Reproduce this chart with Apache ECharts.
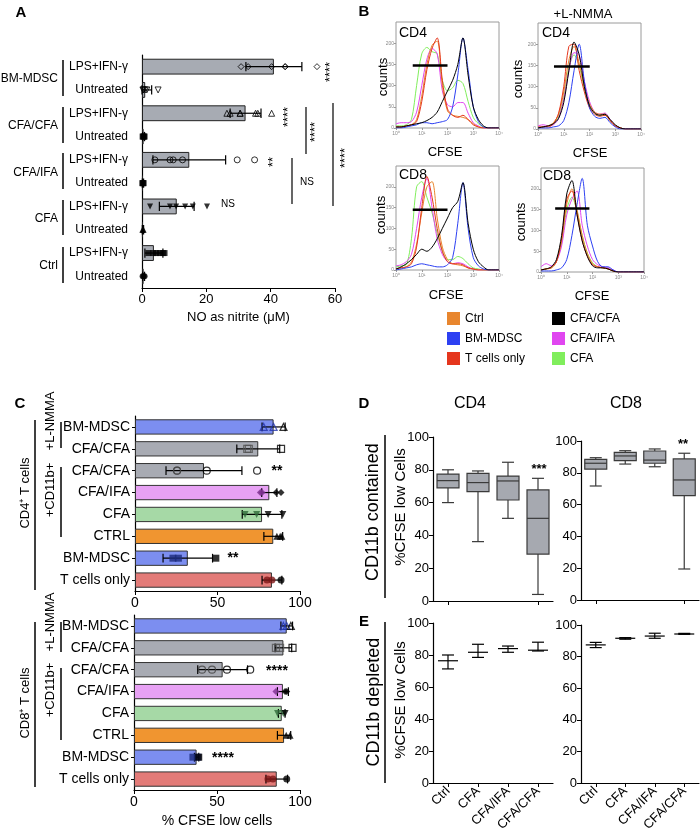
<!DOCTYPE html>
<html>
<head>
<meta charset="utf-8">
<script src="https://cdn.jsdelivr.net/npm/echarts@6/dist/echarts.min.js"></script>
<style>
  html, body { margin: 0; background: #fff; }
  #chart { width: 700px; height: 834px; }
</style>
</head>
<body>
<div id="chart"></div>
<script>
// ---------- A: NO as nitrite ----------
const aRows = ['LPS+IFN-γ', 'Untreated', 'LPS+IFN-γ', 'Untreated', 'LPS+IFN-γ', 'Untreated',
  'LPS+IFN-γ', 'Untreated', 'LPS+IFN-γ', 'Untreated'];
const aGroups = ['BM-MDSC', 'CFA/CFA', 'CFA/IFA', 'CFA', 'Ctrl'];
const aMeans = [41, 1, 32.2, 0.5, 14.7, 0.3, 10.8, 0.3, 3.7, 0.5];
const aSd = [8.7, 2, 4.8, 0.3, 11.3, 0.2, 5.4, 0.2, 2.8, 0.3];
const aPoints = [
  [30.8, 33, 40.3, 44.5, 44.5, 54.4],
  [0.3, 0.5, 1, 1.5, 5],
  [26.4, 27.4, 30.5, 30.5, 35.3, 36, 40.3],
  [0.2, 0.4, 0.6, 0.8],
  [4, 8.7, 9.7, 12.6, 29.6, 35],
  [0.1, 0.3, 0.5],
  [2.5, 8.7, 10.6, 13.4, 15.8, 20.2],
  [0.1, 0.3, 0.5],
  [2, 3.5, 4.5, 5.5, 6.5, 7],
  [0.2, 0.5, 0.8]
];

// ---------- B: CFSE histograms (x in decades) ----------
const bBins = [0, 0.2, 0.4, 0.6, 0.8, 1, 1.2, 1.4, 1.6, 1.8, 2, 2.2, 2.4, 2.6, 2.8, 3, 3.2, 3.4, 3.6, 3.8, 4];
const decadeLabels = ['10⁰', '10¹', '10²', '10³', '10⁴'];
const countLabels = ['0', '50', '100', '150', '200'];
const histNames = ['Ctrl', 'BM-MDSC', 'T cells only', 'CFA/CFA', 'CFA/IFA', 'CFA'];

const cd4Ctrl   = [1, 1, 2, 3, 8, 30, 60, 78, 82, 40, 16, 12, 11, 10, 8, 4, 1, 0, 0, 0, 0];
const cd4Mdsc   = [0, 0, 1, 2, 3, 5, 5, 4, 5, 6, 8, 20, 50, 85, 55, 20, 6, 1, 0, 0, 0];
const cd4Tonly  = [1, 1, 2, 3, 6, 25, 55, 75, 85, 45, 18, 12, 10, 12, 8, 3, 1, 0, 0, 0, 0];
const cd4CfaCfa = [1, 1, 2, 3, 4, 5, 7, 10, 15, 25, 35, 45, 60, 85, 50, 20, 8, 2, 0, 0, 0];
const cd4CfaIfa = [4, 5, 5, 6, 15, 40, 65, 75, 70, 35, 22, 20, 24, 24, 14, 5, 2, 0, 0, 0, 0];
const cd4Cfa    = [2, 2, 3, 8, 40, 70, 76, 72, 70, 45, 35, 38, 45, 42, 25, 10, 4, 1, 0, 0, 0];

const nmma4Ctrl   = [1, 2, 3, 6, 14, 35, 65, 78, 62, 40, 24, 16, 14, 14, 8, 3, 1, 0, 0, 0, 0];
const nmma4Mdsc   = [1, 1, 1, 2, 3, 8, 25, 55, 80, 45, 20, 12, 10, 11, 6, 2, 0, 0, 0, 0, 0];
const nmma4Tonly  = [2, 2, 2, 5, 15, 40, 78, 80, 55, 35, 20, 14, 12, 13, 8, 3, 1, 0, 0, 0, 0];
const nmma4CfaCfa = [1, 2, 3, 5, 10, 25, 55, 82, 70, 40, 22, 15, 13, 14, 9, 4, 1, 0, 0, 0, 0];
const nmma4CfaIfa = [3, 4, 3, 4, 10, 28, 55, 72, 70, 45, 26, 16, 14, 15, 9, 3, 1, 0, 0, 0, 0];
const nmma4Cfa    = [1, 2, 3, 5, 12, 30, 58, 70, 60, 38, 22, 15, 13, 13, 8, 3, 1, 0, 0, 0, 0];

const cd8Ctrl   = [1, 2, 3, 8, 25, 55, 80, 85, 50, 22, 10, 6, 5, 4, 2, 1, 0, 0, 0, 0, 0];
const cd8Mdsc   = [0, 1, 2, 3, 5, 6, 5, 4, 3, 3, 5, 12, 45, 84, 40, 12, 4, 1, 0, 0, 0];
const cd8Tonly  = [1, 2, 3, 6, 22, 60, 90, 70, 40, 18, 8, 6, 6, 5, 2, 1, 0, 0, 0, 0, 0];
const cd8CfaCfa = [1, 3, 6, 10, 15, 20, 18, 22, 30, 40, 50, 60, 66, 84, 45, 20, 8, 3, 0, 0, 0];
const cd8CfaIfa = [4, 5, 8, 15, 40, 70, 88, 60, 30, 15, 8, 6, 7, 6, 3, 1, 0, 0, 0, 0, 0];
const cd8Cfa    = [3, 4, 5, 30, 80, 85, 70, 55, 35, 18, 10, 10, 13, 11, 6, 2, 1, 0, 0, 0, 0];

const nmma8Ctrl   = [2, 3, 4, 10, 30, 65, 80, 60, 35, 18, 8, 5, 4, 3, 1, 0, 0, 0, 0, 0, 0];
const nmma8Mdsc   = [1, 1, 1, 2, 4, 12, 35, 65, 90, 45, 25, 10, 5, 5, 2, 0, 0, 0, 0, 0, 0];
const nmma8Tonly  = [2, 3, 4, 10, 32, 70, 78, 55, 30, 15, 7, 5, 4, 3, 1, 0, 0, 0, 0, 0, 0];
const nmma8CfaCfa = [2, 3, 5, 12, 35, 75, 88, 55, 30, 15, 6, 4, 4, 3, 1, 0, 0, 0, 0, 0, 0];
const nmma8CfaIfa = [5, 8, 6, 10, 25, 55, 70, 78, 45, 25, 12, 7, 5, 4, 2, 0, 0, 0, 0, 0, 0];
const nmma8Cfa    = [2, 3, 4, 10, 28, 60, 72, 58, 35, 18, 9, 5, 4, 3, 1, 0, 0, 0, 0, 0, 0];

// gate: [from, to, height]
const gateCd4 = [0.65, 2.0, 59];
const gateNmma4 = [0.62, 2.01, 59];
const gateCd8 = [0.65, 2.0, 58];
const gateNmma8 = [0.55, 1.88, 61];

// ---------- C: % CFSE low cells ----------
const cRows = ['BM-MDSC', 'CFA/CFA', 'CFA/CFA', 'CFA/IFA', 'CFA', 'CTRL', 'BM-MDSC', 'T cells only'];
const cCd4Means = [84, 74.7, 41.8, 81.4, 77, 83.8, 32, 83];
const cCd4Sd = [7, 13, 23, 4.6, 12, 5.7, 15, 6];
const cCd4Points = [
  [78, 84, 90], [68, 69, 88.5], [25.5, 25.5, 43.5, 74], [76, 77, 85.5, 88.5],
  [66.7, 73.7, 80.7, 89.6], [86, 88, 89], [23, 26.3, 49], [80, 83, 88.5]
];
const cCd8Means = [92, 90, 53.4, 89.7, 89, 90.4, 37.7, 86];
const cCd8Sd = [3.5, 5, 15, 3.3, 2, 4, 1.3, 6.5];
const cCd8Points = [
  [90, 92, 94.5], [85.5, 88, 95.5], [41, 47, 56, 70], [85.5, 91, 92],
  [86.5, 90, 91], [91.7, 94], [35.5, 38.5, 39], [80.7, 83.7, 92]
];

// ---------- D / E ----------
const dCats = ['Ctrl', 'CFA', 'CFA/IFA', 'CFA/CFA'];
// [min, Q1, median, Q3, max]
const dCd4Box = [[60, 69, 73.4, 77.4, 80], [36.2, 66.7, 72.2, 77.8, 79.3], [50.4, 61.6, 73.2, 76.2, 84.6], [4, 28.6, 50.4, 67.7, 74.8]];
const dCd8Box = [[71.7, 82.3, 86, 88.5, 89.5], [85.5, 87.6, 90.6, 92.9, 93.9], [83.8, 86, 88, 93.7, 95], [19.5, 65.6, 75.5, 88.7, 92.3]];
const eCd4Low = [71.3, 78.5, 81.7, 82.5];
const eCd4Mean = [76.4, 81.7, 84, 83];
const eCd4High = [80, 86.7, 85.6, 88];
const eCd8Low = [85.7, 91, 91.6, 94.1];
const eCd8Mean = [87.4, 91.6, 93, 94.3];
const eCd8High = [89, 92, 94.8, 94.7];

// ---------- styles ----------
const FONT = 'Liberation Sans, Arial, sans-serif';
const axisLine = { show: true, lineStyle: { color: '#000', width: 1.2 } };
const histColors = ['#e8862e', '#2d40f2', '#e5361d', '#000000', '#e046f0', '#80ee5c'];
const histOrder = [5, 4, 0, 2, 1, 3];
const aSymbol = ['diamond', 'triangle', 'triangle', 'rect', 'circle', 'rect', 'triangle', 'triangle', 'rect', 'circle'];
const aRotate = [0, 180, 0, 0, 0, 0, 180, 0, 0, 0];
const aOpen = [true, true, true, false, true, false, false, false, false, false];
const cSymbol = ['triangle', 'rect', 'circle', 'diamond', 'triangle', 'triangle', 'rect', 'circle'];
const cRotate = [0, 0, 0, 0, 180, 0, 0, 0];
const cOpen = [true, true, true, false, false, false, false, false];
const cInner = ['#2233aa', '#555555', '#444444', '#7d2f8f', '#2f6a3a', '#000000', '#1b2a7c', '#7d1616'];
const cBarColor = ['#7c8ef0', '#a8abb3', '#a8abb3', '#e7a1f4', '#a6d9a6', '#f09530', '#7c8ef0', '#e37b78'];

const chart = echarts.init(document.getElementById('chart'));

/** horizontal error bar: [row, lo, hi] */
function hErr(params, api) {
  const row = api.value(0);
  const lo = api.coord([api.value(1), row]);
  const hi = api.coord([api.value(2), row]);
  const h = api.size([0, 1])[1] * 0.4;
  const st = { stroke: '#000', lineWidth: 1.2 };
  return {
    type: 'group',
    children: [
      { type: 'line', shape: { x1: lo[0], y1: lo[1], x2: hi[0], y2: hi[1] }, style: st },
      { type: 'line', shape: { x1: hi[0], y1: hi[1] - h / 2, x2: hi[0], y2: hi[1] + h / 2 }, style: st },
      { type: 'line', shape: { x1: lo[0], y1: lo[1] - h / 2, x2: lo[0], y2: lo[1] + h / 2 }, style: st }
    ]
  };
}

/** vertical mean ± sem: [cat, low, mean, high] */
function vErr(params, api) {
  const cat = api.value(0);
  const lo = api.coord([cat, api.value(1)]);
  const mid = api.coord([cat, api.value(2)]);
  const hi = api.coord([cat, api.value(3)]);
  const st = { stroke: '#000', lineWidth: 1.2 };
  return {
    type: 'group',
    children: [
      { type: 'line', shape: { x1: lo[0], y1: lo[1], x2: hi[0], y2: hi[1] }, style: st },
      { type: 'line', shape: { x1: hi[0] - 6, y1: hi[1], x2: hi[0] + 6, y2: hi[1] }, style: st },
      { type: 'line', shape: { x1: lo[0] - 6, y1: lo[1], x2: lo[0] + 6, y2: lo[1] }, style: st },
      { type: 'line', shape: { x1: mid[0] - 10, y1: mid[1], x2: mid[0] + 10, y2: mid[1] }, style: st }
    ]
  };
}

/** box & whiskers, caps narrower than the box: [cat, min, q1, med, q3, max] */
function boxItem(params, api) {
  const cat = api.value(0);
  const p = [1, 2, 3, 4, 5].map((k) => api.coord([cat, api.value(k)]));
  const x = p[0][0];
  const half = 11;
  const cap = 6;
  const st = { stroke: '#3a3a3a', lineWidth: 1.2 };
  return {
    type: 'group',
    children: [
      { type: 'line', shape: { x1: x, y1: p[0][1], x2: x, y2: p[1][1] }, style: st },
      { type: 'line', shape: { x1: x, y1: p[3][1], x2: x, y2: p[4][1] }, style: st },
      { type: 'line', shape: { x1: x - cap, y1: p[0][1], x2: x + cap, y2: p[0][1] }, style: st },
      { type: 'line', shape: { x1: x - cap, y1: p[4][1], x2: x + cap, y2: p[4][1] }, style: st },
      {
        type: 'rect', shape: { x: x - half, y: p[3][1], width: half * 2, height: p[1][1] - p[3][1] },
        style: { fill: '#a6a9b0', stroke: '#3a3a3a', lineWidth: 1.2 }
      },
      { type: 'line', shape: { x1: x - half, y1: p[2][1], x2: x + half, y2: p[2][1] }, style: st }
    ]
  };
}

function errData(means, sd) {
  return means.map((m, i) => [i, Math.max(0, m - sd[i]), m + sd[i]]);
}

function aDots() {
  const out = [];
  aPoints.forEach((row, i) => row.forEach((v) => {
    out.push({
      value: [v, i],
      symbol: aSymbol[i],
      symbolRotate: aRotate[i],
      itemStyle: aOpen[i]
        ? { color: 'rgba(255,255,255,0)', borderColor: '#000', borderWidth: 1 }
        : { color: '#000', borderWidth: 0 }
    });
  }));
  return out;
}

function cDots(points, means) {
  const out = [];
  points.forEach((row, i) => row.forEach((v) => {
    const c = v <= means[i] + 1 ? cInner[i] : '#000';
    out.push({
      value: [v, i],
      symbol: cSymbol[i],
      symbolRotate: cRotate[i],
      itemStyle: cOpen[i]
        ? { color: 'rgba(255,255,255,0)', borderColor: c, borderWidth: 1.2 }
        : { color: c, borderWidth: 0 }
    });
  }));
  return out;
}

// ---------- grids ----------
const bBoxes = [
  { left: 396, top: 22, width: 103, height: 106 },
  { left: 538, top: 23, width: 103, height: 106 },
  { left: 396, top: 166, width: 103, height: 104 },
  { left: 541, top: 168, width: 103, height: 104 }
];
const grid = [
  { left: 142, top: 55, width: 193, height: 233 },
  ...bBoxes.map((b) => ({ ...b, show: true, borderColor: '#9a9a9a', borderWidth: 1 })),
  { left: 135, top: 416, width: 165, height: 175 },
  { left: 134, top: 615, width: 166, height: 175 },
  { left: 433, top: 437, width: 120, height: 164 },
  { left: 581, top: 441, width: 118, height: 159 },
  { left: 433, top: 623, width: 120, height: 160 },
  { left: 581, top: 625, width: 118, height: 159 }
];

const xAxis = [
  {
    gridIndex: 0, type: 'value', min: 0, max: 60, interval: 20,
    axisLine, axisTick: { show: true, length: 4, lineStyle: { color: '#000' } },
    axisLabel: { fontSize: 13, color: '#000', margin: 5 },
    splitLine: { show: false },
    name: 'NO as nitrite (μM)', nameLocation: 'middle', nameGap: 23,
    nameTextStyle: { fontSize: 13, color: '#000' }
  },
  ...bBoxes.map((b, i) => ({
    gridIndex: i + 1, type: 'value', min: 0, max: 4, interval: 1,
    axisLine: { show: false },
    axisTick: { show: true, length: 2, lineStyle: { color: '#999' } },
    axisLabel: { fontSize: 5, color: '#888', margin: 3, formatter: (v) => decadeLabels[v] },
    splitLine: { show: false }
  })),
  {
    gridIndex: 5, type: 'value', min: 0, max: 100, interval: 50,
    axisLine, axisTick: { show: true, length: 4, lineStyle: { color: '#000' } },
    axisLabel: { fontSize: 14, color: '#000', margin: 5 }, splitLine: { show: false }
  },
  {
    gridIndex: 6, type: 'value', min: 0, max: 100, interval: 50,
    axisLine, axisTick: { show: true, length: 4, lineStyle: { color: '#000' } },
    axisLabel: { fontSize: 14, color: '#000', margin: 5 }, splitLine: { show: false },
    name: '% CFSE low cells', nameLocation: 'middle', nameGap: 24,
    nameTextStyle: { fontSize: 14, color: '#000' }
  },
  ...[7, 8, 9, 10].map((g) => ({
    gridIndex: g, type: 'category', data: dCats,
    axisLine, axisTick: { show: true, length: 4, alignWithLabel: true, lineStyle: { color: '#000' } },
    axisLabel: g < 9 ? { show: false } : { fontSize: 13, color: '#000', rotate: 45, margin: 6, interval: 0 }
  }))
];

const yAxis = [
  {
    gridIndex: 0, type: 'category', data: aRows, inverse: true,
    axisLine, axisTick: { show: false },
    axisLabel: { fontSize: 12, color: '#000', margin: 14 }
  },
  ...bBoxes.map((b, i) => ({
    gridIndex: i + 1, type: 'value', min: 0, max: 100, interval: 20,
    axisLine: { show: false },
    axisTick: { show: true, length: 2, lineStyle: { color: '#999' } },
    axisLabel: { fontSize: 5, color: '#888', margin: 2, showMaxLabel: false, formatter: (v) => countLabels[v / 20] || '' },
    splitLine: { show: false }
  })),
  ...[5, 6].map((g) => ({
    gridIndex: g, type: 'category', data: cRows, inverse: true,
    axisLine, axisTick: { show: true, length: 3, alignWithLabel: true, lineStyle: { color: '#000' } },
    axisLabel: { fontSize: 14, color: '#000', margin: 5 }
  })),
  ...[7, 8, 9, 10].map((g) => ({
    gridIndex: g, type: 'value', min: 0, max: 100, interval: 20,
    axisLine, axisTick: { show: true, length: 4, lineStyle: { color: '#000' } },
    axisLabel: { fontSize: 13, color: '#000', margin: 4 }, splitLine: { show: false }
  }))
];

// ---------- series ----------
const series = [];

// A
series.push({
  type: 'bar', xAxisIndex: 0, yAxisIndex: 0, data: aMeans, barWidth: '68%',
  itemStyle: { color: '#a7abb3', borderColor: '#222', borderWidth: 1 }, z: 1
});
series.push({
  type: 'custom', xAxisIndex: 0, yAxisIndex: 0, data: errData(aMeans, aSd),
  renderItem: hErr, encode: { x: [1, 2], y: 0 }, z: 3
});
series.push({
  type: 'scatter', xAxisIndex: 0, yAxisIndex: 0, data: aDots(), symbolSize: 6, z: 4
});

// B
const histSets = [
  [cd4Ctrl, cd4Mdsc, cd4Tonly, cd4CfaCfa, cd4CfaIfa, cd4Cfa],
  [nmma4Ctrl, nmma4Mdsc, nmma4Tonly, nmma4CfaCfa, nmma4CfaIfa, nmma4Cfa],
  [cd8Ctrl, cd8Mdsc, cd8Tonly, cd8CfaCfa, cd8CfaIfa, cd8Cfa],
  [nmma8Ctrl, nmma8Mdsc, nmma8Tonly, nmma8CfaCfa, nmma8CfaIfa, nmma8Cfa]
];
const gates = [gateCd4, gateNmma4, gateCd8, gateNmma8];
histSets.forEach((set, p) => {
  histOrder.forEach((k) => {
    series.push({
      type: 'line', name: histNames[k], xAxisIndex: p + 1, yAxisIndex: p + 1,
      data: bBins.map((b, j) => [b, set[k][j]]),
      color: histColors[k], showSymbol: false, smooth: 0.3,
      lineStyle: { width: 1 }, z: 2
    });
  });
  const g = gates[p];
  series.push({
    type: 'line', xAxisIndex: p + 1, yAxisIndex: p + 1,
    data: [[g[0], g[2]], [g[1], g[2]]], color: '#000',
    showSymbol: false, lineStyle: { width: 2.5 }, z: 5
  });
});

// C
[[5, cCd4Means, cCd4Sd, cCd4Points], [6, cCd8Means, cCd8Sd, cCd8Points]].forEach(([g, means, sd, pts]) => {
  series.push({
    type: 'bar', xAxisIndex: g, yAxisIndex: g, barWidth: '70%',
    data: means.map((m, i) => ({ value: m, itemStyle: { color: cBarColor[i] } })),
    itemStyle: { borderColor: '#333', borderWidth: 1 }, z: 1
  });
  series.push({
    type: 'custom', xAxisIndex: g, yAxisIndex: g, data: errData(means, sd),
    renderItem: hErr, encode: { x: [1, 2], y: 0 }, z: 3
  });
  series.push({
    type: 'scatter', xAxisIndex: g, yAxisIndex: g, data: cDots(pts, means), symbolSize: 7, z: 4
  });
});

// D
[[7, dCd4Box], [8, dCd8Box]].forEach(([g, box]) => {
  series.push({
    type: 'custom', xAxisIndex: g, yAxisIndex: g,
    data: box.map((b, i) => [i, ...b]),
    renderItem: boxItem, encode: { x: 0, y: [1, 2, 3, 4, 5] }
  });
});

// E
[[9, eCd4Low, eCd4Mean, eCd4High], [10, eCd8Low, eCd8Mean, eCd8High]].forEach(([g, lo, mid, hi]) => {
  series.push({
    type: 'custom', xAxisIndex: g, yAxisIndex: g,
    data: mid.map((m, i) => [i, lo[i], m, hi[i]]),
    renderItem: vErr, encode: { x: 0, y: [1, 2, 3] }
  });
});

// ---------- annotations ----------
function txt(x, y, s, size, opt = {}) {
  return {
    type: 'text', x, y, rotation: opt.rot || 0, silent: true,
    style: {
      text: s, fontSize: size, fontFamily: FONT, fill: '#000',
      fontWeight: opt.bold ? 'bold' : 'normal',
      textAlign: opt.align || 'center', textVerticalAlign: 'middle'
    }
  };
}
function vline(x, y1, y2, w = 1.5) {
  return { type: 'line', silent: true, shape: { x1: x, y1, x2: x, y2 }, style: { stroke: '#000', lineWidth: w } };
}
const R = Math.PI / 2;

const graphic = [
  txt(21, 13, 'A', 15, { bold: true }),
  txt(364, 12, 'B', 15, { bold: true }),
  txt(20, 404, 'C', 15, { bold: true }),
  txt(364, 404, 'D', 15, { bold: true }),
  txt(364, 622, 'E', 15, { bold: true }),

  // A groups
  txt(58, 79, aGroups[0], 12, { align: 'right' }),
  txt(58, 126, aGroups[1], 12, { align: 'right' }),
  txt(58, 173, aGroups[2], 12, { align: 'right' }),
  txt(58, 219, aGroups[3], 12, { align: 'right' }),
  txt(58, 266, aGroups[4], 12, { align: 'right' }),
  vline(63, 60, 96), vline(63, 107, 143), vline(63, 153, 189), vline(63, 200, 235), vline(63, 247, 283),
  // A stats
  txt(330, 72, '****', 13, { rot: R }),
  txt(288, 117, '****', 13, { rot: R }),
  txt(273, 162, '**', 13, { rot: R }),
  txt(315, 132, '****', 13, { rot: R }),
  txt(345, 158, '****', 13, { rot: R }),
  txt(307, 182, 'NS', 10),
  txt(228, 204, 'NS', 10),
  vline(306, 107, 154, 1.2), vline(292, 158, 204, 1.2), vline(333, 103, 206, 1.2),

  // B labels
  txt(583, 14, '+L-NMMA', 13),
  txt(399, 33, 'CD4', 14, { align: 'left' }),
  txt(542, 33, 'CD4', 14, { align: 'left' }),
  txt(399, 175, 'CD8', 14, { align: 'left' }),
  txt(543, 176, 'CD8', 14, { align: 'left' }),
  txt(383, 77, 'counts', 13, { rot: R }),
  txt(518, 79, 'counts', 13, { rot: R }),
  txt(381, 215, 'counts', 13, { rot: R }),
  txt(521, 222, 'counts', 13, { rot: R }),
  txt(445, 152, 'CFSE', 13),
  txt(590, 153, 'CFSE', 13),
  txt(446, 295, 'CFSE', 13),
  txt(592, 296, 'CFSE', 13),

  // C labels
  txt(50, 421, '+L-NMMA', 13, { rot: R }),
  txt(50, 490, '+CD11b+', 13, { rot: R }),
  txt(25, 493, 'CD4⁺ T cells', 13, { rot: R }),
  vline(61, 422, 448), vline(61, 467, 537), vline(35, 420, 590),
  txt(50, 622, '+L-NMMA', 13, { rot: R }),
  txt(50, 690, '+CD11b+', 13, { rot: R }),
  txt(25, 703, 'CD8⁺ T cells', 13, { rot: R }),
  vline(61, 622, 652), vline(61, 668, 740), vline(35, 622, 787),
  txt(277, 471, '**', 14, { bold: true }),
  txt(233, 558, '**', 14, { bold: true }),
  txt(277, 671, '****', 14, { bold: true }),
  txt(223, 758, '****', 14, { bold: true }),

  // D / E labels
  txt(470, 404, 'CD4', 16),
  txt(626, 404, 'CD8', 16),
  txt(373, 512, 'CD11b contained', 18, { rot: R }),
  txt(374, 702, 'CD11b depleted', 18, { rot: R }),
  vline(385, 435, 598), vline(385, 622, 783),
  txt(401, 507, '%CFSE low Cells', 15, { rot: R }),
  txt(401, 700, '%CFSE low Cells', 15, { rot: R }),
  txt(539, 469, '***', 13, { bold: true }),
  txt(683, 444, '**', 13, { bold: true })
];

const option = {
  animation: false,
  backgroundColor: '#fff',
  textStyle: { fontFamily: FONT },
  grid, xAxis, yAxis, series, graphic,
  legend: [
    {
      data: ['Ctrl', 'BM-MDSC', 'T cells only'], orient: 'vertical', left: 447, top: 312,
      padding: 0, itemWidth: 13, itemHeight: 13, itemGap: 7, icon: 'rect', selectedMode: false,
      textStyle: { fontSize: 12, color: '#000' }
    },
    {
      data: ['CFA/CFA', 'CFA/IFA', 'CFA'], orient: 'vertical', left: 552, top: 312,
      padding: 0, itemWidth: 13, itemHeight: 13, itemGap: 7, icon: 'rect', selectedMode: false,
      textStyle: { fontSize: 12, color: '#000' }
    }
  ]
};
chart.setOption(option);
</script>
</body>
</html>
